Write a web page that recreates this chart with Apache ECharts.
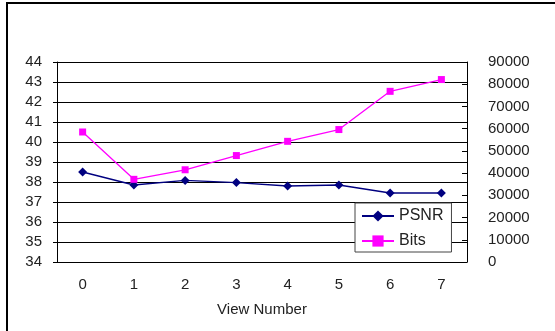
<!DOCTYPE html>
<html>
<head>
<meta charset="utf-8">
<script src="https://cdn.jsdelivr.net/npm/echarts@6/dist/echarts.min.js"></script>
<style>
  html, body { margin: 0; padding: 0; background: #fff; }
  #chart { width: 555px; height: 331px; }
</style>
</head>
<body>
<div id="chart"></div>
<script>
// View indices along the x axis
const views = ['0', '1', '2', '3', '4', '5', '6', '7'];
// PSNR (dB) per view, left axis
const psnr = [38.5, 37.85, 38.08, 37.97, 37.8, 37.85, 37.45, 37.45];
// Bits per view, right axis
const bits = [58500, 37200, 41500, 47900, 54300, 59600, 76800, 82100];

const FONT = '"Liberation Sans", Arial, sans-serif';
const textStyle = { color: '#222', fontSize: 15, fontFamily: FONT };

const chart = echarts.init(document.getElementById('chart'), null, { renderer: 'canvas' });
chart.setOption({
  animation: false,
  backgroundColor: '#fff',
  textStyle: { fontFamily: FONT },
  grid: { left: 57, right: 88, top: 62, bottom: 69 },
  graphic: [{
    type: 'polyline',
    shape: { points: [[7, 331], [7, 3], [555, 3]] },
    style: { stroke: '#000', lineWidth: 2, fill: null },
    silent: true
  }],
  legend: {
    orient: 'vertical',
    left: 355,
    top: 203,
    width: 95,
    padding: [5, 8, 3, 6],
    itemGap: 9,
    itemWidth: 32,
    itemHeight: 14,
    backgroundColor: '#fff',
    borderColor: '#444',
    borderWidth: 1,
    borderRadius: 0,
    textStyle: { color: '#222', fontSize: 16, fontFamily: FONT },
    data: ['PSNR', 'Bits']
  },
  xAxis: {
    type: 'category',
    data: views,
    boundaryGap: true,
    name: 'View Number',
    nameLocation: 'middle',
    nameGap: 40,
    nameTextStyle: textStyle,
    axisLine: { lineStyle: { color: '#000', width: 1 } },
    axisTick: { inside: true, length: 4, interval: 0, lineStyle: { color: '#000' } },
    axisLabel: Object.assign({ margin: 15, interval: 0 }, textStyle)
  },
  yAxis: [{
    type: 'value',
    min: 34,
    max: 44,
    interval: 1,
    position: 'left',
    axisLine: { show: true, lineStyle: { color: '#000', width: 1 } },
    axisTick: { show: true, length: 4, lineStyle: { color: '#000' } },
    splitLine: { show: true, lineStyle: { color: '#000', width: 1 } },
    axisLabel: Object.assign({ margin: 15 }, textStyle)
  }, {
    type: 'value',
    min: 0,
    max: 90000,
    interval: 10000,
    position: 'right',
    axisLine: { show: true, lineStyle: { color: '#000', width: 1 } },
    axisTick: { show: true, inside: true, length: 5, lineStyle: { color: '#000' } },
    splitLine: { show: false },
    axisLabel: Object.assign({ margin: 21, formatter: v => String(v) }, textStyle)
  }],
  series: [{
    name: 'PSNR',
    type: 'line',
    yAxisIndex: 0,
    data: psnr,
    symbol: 'diamond',
    symbolSize: 9,
    color: '#000080',
    lineStyle: { color: '#000080', width: 1.3 },
    itemStyle: { color: '#000080' }
  }, {
    name: 'Bits',
    type: 'line',
    yAxisIndex: 1,
    data: bits,
    symbol: 'rect',
    symbolSize: 7,
    color: '#ff00ff',
    lineStyle: { color: '#ff00ff', width: 1.3 },
    itemStyle: { color: '#ff00ff' }
  }]
});
</script>
</body>
</html>
